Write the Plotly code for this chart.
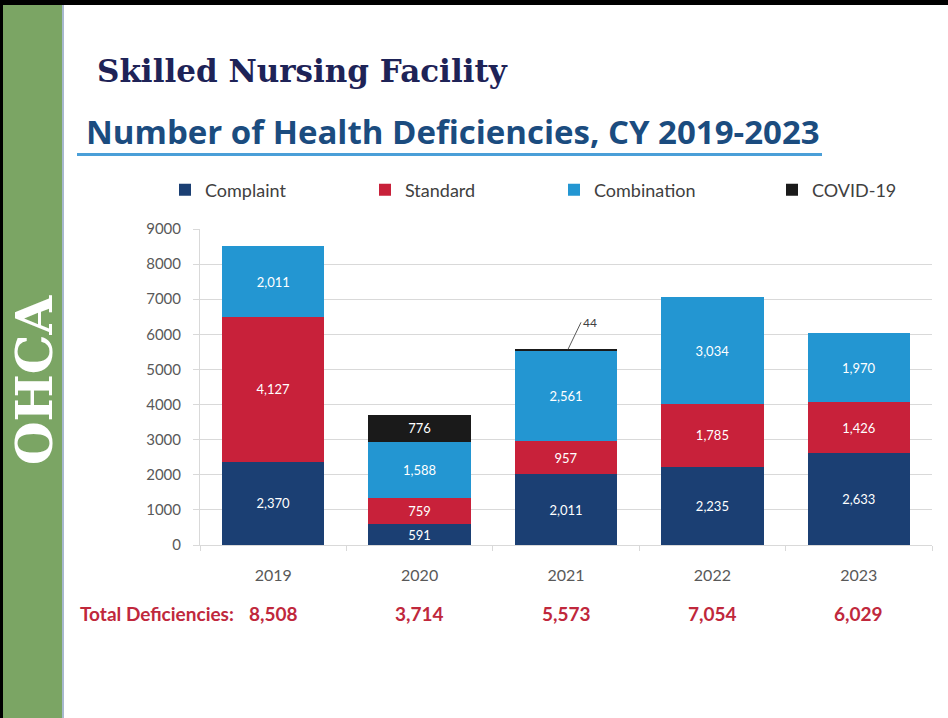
import plotly.graph_objects as go

# ---------------- data ----------------
years = ["2019", "2020", "2021", "2022", "2023"]
complaint = [2370, 591, 2011, 2235, 2633]
standard = [4127, 759, 957, 1785, 1426]
combination = [2011, 1588, 2561, 3034, 1970]
covid = [None, 776, 44, None, None]
y_ticks = [0, 1000, 2000, 3000, 4000, 5000, 6000, 7000, 8000, 9000]

series = [
    ("Complaint", complaint, "#1B3F73"),
    ("Standard", standard, "#C8213A"),
    ("Combination", combination, "#2396D2"),
    ("COVID-19", covid, "#1A1A1A"),
]

totals = [sum(v or 0 for v in col) for col in zip(complaint, standard, combination, covid)]

# ---------------- geometry helpers (page decoration only) ----------------
W, H = 948, 718
L, R, T, B = 200, 932, 229, 545


def px(x):
    return (x - L) / (R - L)


def py(y):
    return (B - y) / (B - T)


SANS = "Lato"
legend_names = ["legend", "legend2", "legend3", "legend4"]
legend_text_x = [205, 405, 594, 812]

fig = go.Figure()
for (name, vals, color), lg in zip(series, legend_names):
    labels = [("" if v is None or v < 100 else f"{v:,}") for v in vals]
    fig.add_trace(go.Bar(
        x=years, y=vals, name=name, legend=lg,
        marker=dict(color=color, line=dict(width=0)),
        text=labels, textposition="inside", insidetextanchor="middle",
        textangle=0,
        textfont=dict(family=SANS, size=13, color="white"),
        hoverinfo="skip",
    ))

shapes = [
    dict(type="rect", xref="paper", yref="paper", x0=px(0), x1=px(3), y0=py(H), y1=py(0),
         fillcolor="#000000", line=dict(width=0), layer="above"),
    dict(type="rect", xref="paper", yref="paper", x0=px(3), x1=px(62), y0=py(H), y1=py(0),
         fillcolor="#7BA564", line=dict(width=0), layer="above"),
    dict(type="rect", xref="paper", yref="paper", x0=px(62), x1=px(64), y0=py(H), y1=py(0),
         fillcolor="#A7B8CE", line=dict(width=0), layer="above"),
    dict(type="rect", xref="paper", yref="paper", x0=px(0), x1=px(W), y0=py(5), y1=py(0),
         fillcolor="#000000", line=dict(width=0), layer="above"),
    dict(type="rect", xref="paper", yref="paper", x0=px(77), x1=px(822), y0=py(156), y1=py(153),
         fillcolor="#4A9FD8", line=dict(width=0), layer="above"),
]

annotations = [
    dict(text="<b>Skilled Nursing Facility</b>", xref="paper", yref="paper",
         x=px(95), y=py(71), xanchor="left", yanchor="middle", showarrow=False,
         font=dict(family="DejaVu Serif", size=31, color="#1E2357")),
    dict(text="<b>Number of Health Deficiencies, CY 2019-2023</b>", xref="paper", yref="paper",
         x=px(84), y=py(132), xanchor="left", yanchor="middle", showarrow=False,
         font=dict(family="Open Sans", size=33, color="#1B4C7F")),
    dict(text="<b>OHCA</b>", xref="paper", yref="paper", x=px(34), y=py(380),
         xanchor="center", yanchor="middle", showarrow=False, textangle=-90,
         font=dict(family="DejaVu Serif", size=50, color="#FFFFFF")),
    dict(text="<b>Total Deficiencies:</b>", xref="paper", yref="paper",
         x=px(78), y=py(613), xanchor="left", yanchor="middle", showarrow=False,
         font=dict(family=SANS, size=19, color="#C0283C")),
    dict(text=f"{covid[2]}", x=2, y=totals[2], xref="x", yref="y",
         showarrow=True, arrowhead=0, arrowwidth=1, arrowcolor="#595959",
         ax=13, ay=-27, xanchor="left", xshift=2,
         font=dict(family=SANS, size=12, color="#404040")),
]
for i, tot in enumerate(totals):
    annotations.append(dict(text=f"<b>{tot:,}</b>", x=i, xref="x", yref="paper", y=py(613),
                            xanchor="center", yanchor="middle", showarrow=False,
                            font=dict(family=SANS, size=19, color="#C0283C")))

legend_common = dict(orientation="h", xanchor="left", yanchor="middle",
                     font=dict(family=SANS, size=18, color="#404040"),
                     bgcolor="rgba(0,0,0,0)")
legends = {}
for lg, tx in zip(legend_names, legend_text_x):
    legends[lg] = dict(legend_common, x=px(tx - 40), y=py(190))

fig.update_layout(
    width=W, height=H,
    margin=dict(l=L, r=W - R, t=T, b=H - B, pad=0),
    paper_bgcolor="white", plot_bgcolor="white",
    barmode="stack", bargap=0.3,
    showlegend=True,
    uniformtext=dict(minsize=13, mode="show"),
    shapes=shapes, annotations=annotations,
    xaxis=dict(type="category", range=[-0.5, 4.5], showline=True, linecolor="#D9D9D9", linewidth=1,
               ticks="outside", tickson="boundaries", ticklen=5, tickcolor="#D9D9D9",
               ticklabelstandoff=16,
               tickfont=dict(family=SANS, size=16, color="#595959"), showgrid=False),
    yaxis=dict(range=[0, 9000], tickvals=y_ticks, showline=True, linecolor="#D9D9D9",
               linewidth=1, ticks="outside", ticklen=6, tickcolor="#D9D9D9",
               ticklabelstandoff=9, gridcolor="#D9D9D9", zeroline=False,
               tickfont=dict(family=SANS, size=15, color="#595959")),
    **legends,
)

fig.write_html("out.html", config={"displayModeBar": False},
               post_script="document.body.style.margin='0px';document.body.style.overflow='hidden';")
